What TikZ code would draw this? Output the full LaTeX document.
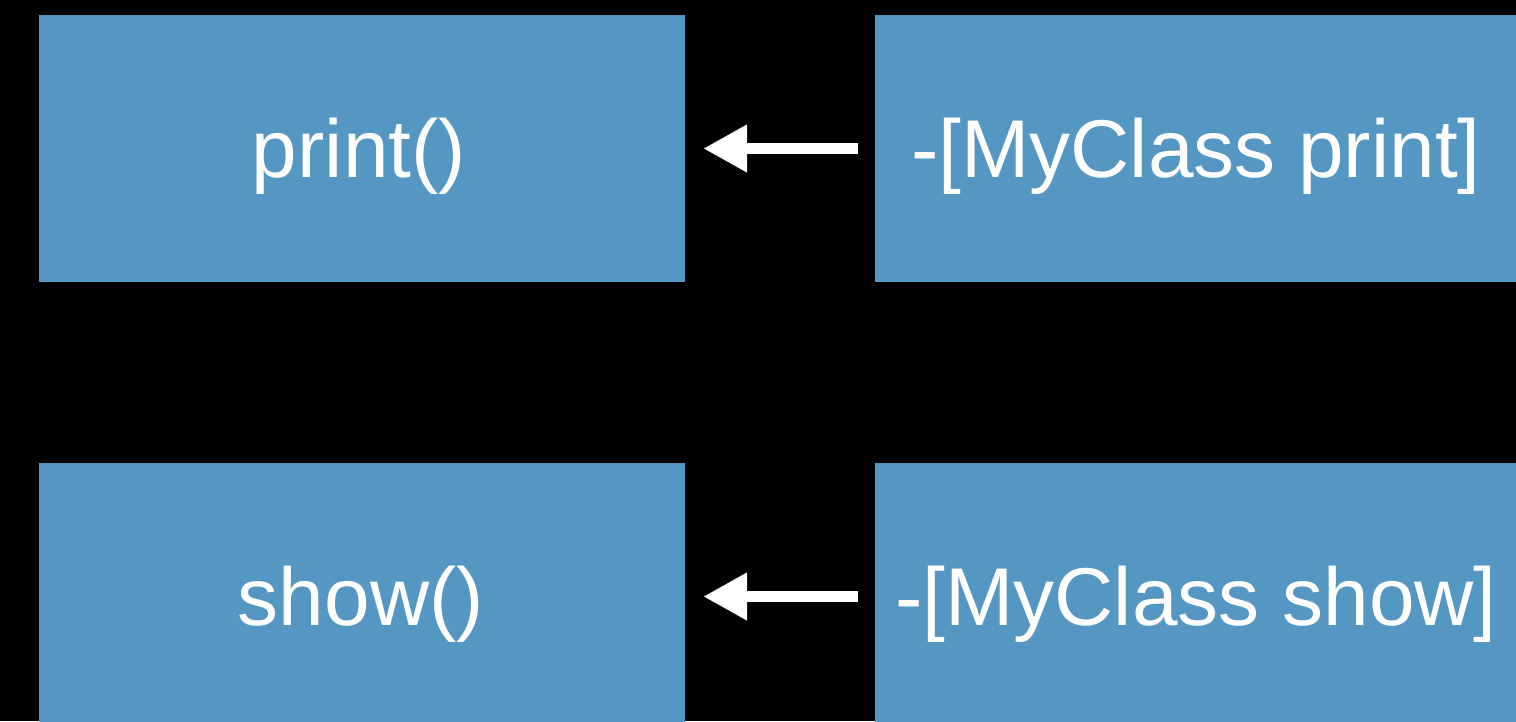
\documentclass[tikz,border=0pt]{standalone}
\usepackage{fontspec}
\setmainfont{Liberation Sans}
\usetikzlibrary{arrows.meta}
\definecolor{boxblue}{RGB}{84,151,194}
\tikzset{
  box/.style={fill=boxblue, draw=none, inner sep=0pt, minimum width=646pt, minimum height=267pt},
  lbl/.style={text=white, anchor=base, inner sep=0pt, font=\fontsize{82}{98}\selectfont},
  arr/.style={draw=white, line width=11pt, -{Triangle[length=44pt, width=45pt]}, shorten >=18pt, shorten <=17pt}
}
\begin{document}
\begin{tikzpicture}[x=1pt, y=-1pt]
\fill[black] (0,0) rectangle (1516,721);
\useasboundingbox (0,0) rectangle (1516,721);
\begin{scope}
\clip (0,0) rectangle (1516,721);
\node[box] (pl) at (362,148.5) {};
\node[box] (pr) at (1198,148.5) {};
\node[box] (sl) at (362,596.5) {};
\node[box] (sr) at (1198,596.5) {};
\end{scope}
\node[lbl] (tpl) at (359,177) {print()};
\node[lbl] (tpr) at (1196,177) {-[MyClass print]};
\node[lbl] (tsl) at (361,625) {show()};
\node[lbl] (tsr) at (1196,625) {-[MyClass show]};
\draw[arr] (pr.west) -- (pl.east);
\draw[arr] (sr.west) -- (sl.east);
\end{tikzpicture}
\end{document}
